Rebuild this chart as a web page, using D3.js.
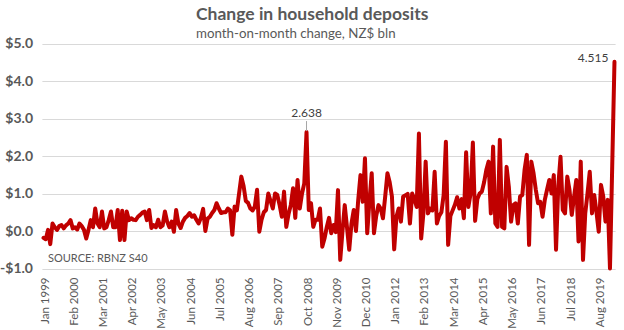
<!DOCTYPE html>
<html>
<head>
<meta charset="utf-8">
<script src="https://cdn.jsdelivr.net/npm/d3@7"></script>
<style>
  html, body { margin: 0; padding: 0; background: #ffffff; }
  svg { display: block; }
  text { font-family: Lato, "Open Sans", "Liberation Sans", sans-serif; }
</style>
</head>
<body>
<svg id="chart" width="624" height="330"></svg>
<script>
// Monthly change in household deposits, NZ$ billion, Jan 1999 – Mar 2020
const startMonth = new Date(1999, 0, 1);
const values = [
  // 1999
  -0.18, -0.22, 0.03, -0.35, 0.2, 0.1, 0.03, 0.13, 0.16, 0.07, 0.15, 0.2,
  // 2000
  0.29, 0.07, 0.1, 0.04, 0.2, 0.13, 0.03, -0.2, 0.03, 0.29, 0.1, 0.6,
  // 2001
  0.2, 0.1, 0.52, 0.07, 0.1, 0.29, 0.52, 0.1, 0.1, 0.56, -0.24, 0.54,
  // 2002
  -0.24, 0.52, 0.29, 0.34, 0.3, 0.29, 0.38, 0.43, 0.49, 0.52, 0.29, 0.56,
  // 2003
  0.08, 0.16, 0.1, 0.3, 0.1, 0.15, 0.52, 0.25, 0.1, 0.25, -0.02, 0.56,
  // 2004
  0.2, 0.08, 0.25, 0.35, 0.4, 0.48, 0.38, 0.42, 0.3, 0.2, 0.35, 0.59,
  // 2005
  0.0, 0.33, 0.38, 0.48, 0.56, 0.74, 0.6, 0.48, 0.5, 0.5, 0.6, 0.55,
  // 2006
  -0.1, 0.65, 0.55, 1.0, 1.45, 1.2, 0.8, 0.75, 0.6, 0.55, 0.65, 1.1,
  // 2007
  -0.02, 0.3, 0.5, 0.56, 1.0, 0.8, 0.6, 1.0, 0.96, 0.7, 0.38, 1.05,
  // 2008
  0.11, 0.45, 0.69, 1.14, 0.35, 1.36, 0.6, 1.0, 1.27, 2.638, 0.56, 0.74,
  // 2009
  0.11, 0.3, 0.3, 0.6, -0.42, -0.2, 0.1, 0.35, -0.06, 0.16, -0.03, 1.09,
  // 2010
  -0.77, 0.0, 0.69, 0.1, -0.5, 0.2, 0.56, 0.0, 0.83, 1.49, 0.78, 1.94,
  // 2011
  -0.06, 0.8, 1.54, -0.06, 0.4, 0.69, 0.6, 0.34, 0.92, 1.54, 1.3, 0.92,
  // 2012
  -0.49, 0.38, 0.6, 0.25, 0.92, 0.95, 0.99, 0.2, 1.0, 0.85, 0.64, 2.6,
  // 2013
  -0.2, 0.47, 1.85, 0.47, 0.6, 0.55, 1.58, 0.2, 0.4, 0.5, 0.96, 2.38,
  // 2014
  -0.37, 0.4, 0.55, 0.7, 0.9, 0.6, 0.85, 0.34, 2.1, 0.64, 1.0, 2.36,
  // 2015
  0.27, 0.85, 1.0, 1.05, 1.3, 1.63, 1.85, 0.47, 2.25, 0.2, 0.11, 2.43,
  // 2016
  0.11, 0.07, 1.71, 1.18, 0.25, 0.69, 0.74, 0.2, 0.92, 0.96, 1.63, 2.03,
  // 2017
  -0.37, 1.85, 1.54, 1.1, 0.74, 0.78, 0.38, 0.83, 1.1, 1.36, 1.0, 1.49,
  // 2018
  -0.5, 1.2, 1.98, 0.56, 0.47, 1.45, 1.09, 0.43, 0.9, 1.36, -0.28, 1.85,
  // 2019
  -0.77, 0.47, 1.0, 1.58, 0.47, 0.96, 0.5, -0.02, 1.23, 0.92, 0.25, 0.83,
  // 2020
  -1.0, 1.75, 4.515
];

const tickLabels = [
  "Jan 1999", "Feb 2000", "Mar 2001", "Apr 2002", "May 2003", "Jun 2004",
  "Jul 2005", "Aug 2006", "Sep 2007", "Oct 2008", "Nov 2009", "Dec 2010",
  "Jan 2012", "Feb 2013", "Mar 2014", "Apr 2015", "May 2016", "Jun 2017",
  "Jul 2018", "Aug 2019"
];
const yTicks = [-1, 0, 1, 2, 3, 4, 5];
const annotated = ["Oct 2008", "Mar 2020"];

const fmtMonth = d3.timeFormat("%b %Y");
const months = values.map((v, i) => fmtMonth(d3.timeMonth.offset(startMonth, i)));
const data = months.map((m, i) => ({ month: m, value: values[i] }));

const svg = d3.select("#chart");
const plot = { left: 42.4, right: 615.6, top: 43.5, bottom: 268.5 };

const x = d3.scaleBand().domain(months).range([plot.left, plot.right]).paddingInner(0).paddingOuter(0);
const cx = m => x(m) + x.bandwidth() / 2;
const y = d3.scaleLinear().domain([-1, 5]).range([plot.bottom, plot.top]);

const grey = "#595959";

// Horizontal gridlines
svg.append("g")
  .selectAll("line")
  .data(yTicks)
  .join("line")
  .attr("x1", plot.left).attr("x2", plot.right)
  .attr("y1", d => Math.round(y(d)) + 0.5).attr("y2", d => Math.round(y(d)) + 0.5)
  .attr("stroke", "#d9d9d9").attr("stroke-width", 1);

// Y axis labels
const yAxis = d3.axisLeft(y)
  .tickValues(yTicks)
  .tickSize(0)
  .tickPadding(0)
  .tickFormat(d => (d < 0 ? "-$" : "$") + d3.format(".1f")(Math.abs(d)));
svg.append("g")
  .attr("transform", `translate(33,0)`)
  .call(yAxis)
  .call(g => g.select(".domain").remove())
  .selectAll("text")
  .attr("fill", grey)
  .attr("font-size", 14)
  .attr("font-weight", "bold")
  .attr("font-family", "Lato, sans-serif");

// X axis labels (rotated)
const xAxis = d3.axisBottom(x)
  .tickValues(tickLabels)
  .tickSize(0)
  .tickPadding(0);
svg.append("g")
  .attr("transform", `translate(0,${plot.bottom})`)
  .call(xAxis)
  .call(g => g.select(".domain").remove())
  .selectAll("text")
  .attr("fill", grey)
  .attr("font-size", 11.5)
  .attr("font-family", "Lato, sans-serif")
  .attr("text-anchor", "end")
  .attr("transform", "rotate(-90)")
  .attr("x", -9)
  .attr("y", 1)
  .attr("dy", "0.35em");

// Deposits line
const line = d3.line()
  .x(d => cx(d.month))
  .y(d => y(d.value));

svg.append("path")
  .datum(data)
  .attr("d", line)
  .attr("fill", "none")
  .attr("stroke", "#c00000")
  .attr("stroke-width", 4)
  .attr("stroke-linejoin", "round")
  .attr("stroke-linecap", "round");

// Value callouts
const fmtVal = d3.format(".3f");
const peakOct = data.find(d => d.month === annotated[0]);
svg.append("line")
  .attr("x1", cx(peakOct.month)).attr("x2", cx(peakOct.month))
  .attr("y1", y(peakOct.value) - 11).attr("y2", y(peakOct.value) - 1)
  .attr("stroke", "#a6a6a6").attr("stroke-width", 1);
svg.append("text")
  .attr("x", cx(peakOct.month))
  .attr("y", y(peakOct.value) - 15)
  .attr("text-anchor", "middle")
  .attr("font-size", 12)
  .attr("fill", "#404040")
  .text(fmtVal(peakOct.value));

const peakMar = data.find(d => d.month === annotated[1]);
svg.append("text")
  .attr("x", cx(peakMar.month) - 6)
  .attr("y", y(peakMar.value))
  .attr("text-anchor", "end")
  .attr("font-size", 12)
  .attr("fill", "#404040")
  .text(fmtVal(peakMar.value));

// Titles
svg.append("text")
  .attr("x", 196).attr("y", 20)
  .attr("font-size", 17.5).attr("font-weight", "bold")
  .attr("fill", grey)
  .text("Change in household deposits");
svg.append("text")
  .attr("x", 196).attr("y", 38)
  .attr("font-size", 13.3)
  .attr("fill", grey)
  .text("month-on-month change, NZ$ bln");

// Source note
svg.append("text")
  .attr("x", 48).attr("y", 262)
  .attr("font-size", 11)
  .attr("fill", grey)
  .text("SOURCE: RBNZ S40");
</script>
</body>
</html>
